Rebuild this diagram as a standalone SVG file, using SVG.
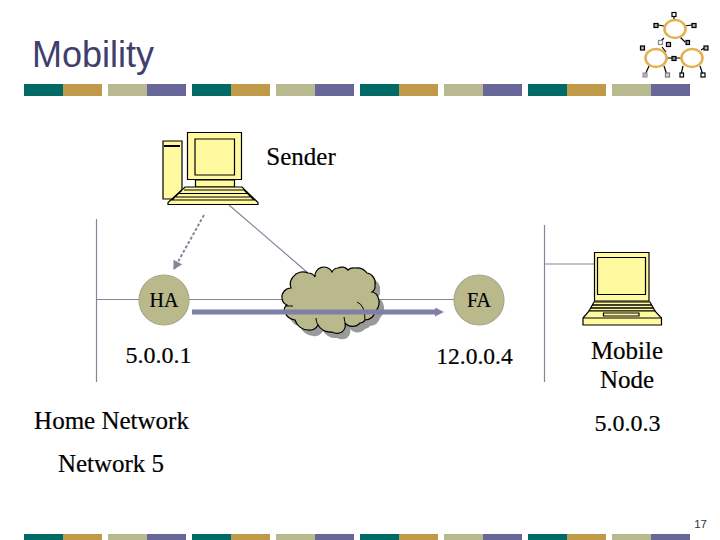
<svg xmlns="http://www.w3.org/2000/svg" xmlns:xlink="http://www.w3.org/1999/xlink" width="720" height="540" viewBox="0 0 720 540">
<style>
.t{font-family:"Liberation Serif","Times New Roman",serif;font-size:25px;fill:#000;stroke:#000;stroke-width:.2;text-anchor:middle}
.n{font-size:24px}
.pc{fill:#fff9a0;stroke:#000;stroke-width:1.200}
.net{stroke:#85859a;stroke-width:1.200;fill:none}
.cl{fill:#b9b98c;stroke:#a8a88a;stroke-width:1.200}
.ln{stroke:#000;stroke-width:1.200}
.sq{stroke:#000;stroke-width:1.200}
</style>
<defs>
<marker id="big" markerWidth="9" markerHeight="9" refX="0" refY="4.500" orient="auto" markerUnits="userSpaceOnUse"><path d="M0 0L9 4.500L0 9Z" fill="#7f7fa8"/></marker>
<marker id="dash" markerWidth="9" markerHeight="10" refX="8" refY="5" orient="auto" markerUnits="userSpaceOnUse"><path d="M0 0L9 5L0 10Z" fill="#85859a"/></marker>
<path id="cloud" d="M291 288A11 11 0 0 1 293 277A12 12 0 0 1 308 273A8 8 0 0 1 315 277A9 9 0 0 1 332 272A7 7 0 0 1 338 268A8 8 0 0 1 348 270A8 8 0 0 1 355 268A13 13 0 0 1 367 273A10 10 0 0 1 375 285A7 7 0 0 1 372 292A8 8 0 0 1 378 297A13 13 0 0 1 375 312A11 11 0 0 1 365 320A6 6 0 0 1 360 323A10 10 0 0 1 345 323A9 9 0 0 1 342 332A11 11 0 0 1 332 332A15 15 0 0 1 318 325A9 9 0 0 1 308 330A14 14 0 0 1 295 320A12 12 0 0 1 285 312A5 5 0 0 1 287 305A8 8 0 0 1 282 298A9 9 0 0 1 291 288Z"/>
<g id="bar"><rect x="0" width="39" height="12" fill="#006a66"/><rect x="39" width="39" height="12" fill="#c09a48"/><rect x="84" width="39" height="12" fill="#b9b98f"/><rect x="123" width="39" height="12" fill="#666699"/></g>
</defs>
<rect width="720" height="540" fill="#fff"/>
<g id="decor">
<use xlink:href="#bar" href="#bar" x="24" y="84"/><use xlink:href="#bar" href="#bar" x="192" y="84"/><use xlink:href="#bar" href="#bar" x="360" y="84"/><use xlink:href="#bar" href="#bar" x="528" y="84"/>
<use xlink:href="#bar" href="#bar" x="24" y="534"/><use xlink:href="#bar" href="#bar" x="192" y="534"/><use xlink:href="#bar" href="#bar" x="360" y="534"/><use xlink:href="#bar" href="#bar" x="528" y="534"/>
</g>
<g id="logo">
<path class="ln" d="M674 20V16M664 26L658 25M684 26L692 25M664 38L660 42M680 37L685 42M666 52L662 47M649 66L645 75M664 66L667 75M666 58H682M683 66L681 75M700 66L703 75M701 50L706 47"/>
<g fill="#fff" stroke="#e3b14e" stroke-width="2.600"><ellipse cx="675" cy="29" rx="10.500" ry="9"/><ellipse cx="656" cy="58" rx="10.500" ry="9"/><ellipse cx="692" cy="58" rx="10.500" ry="9"/></g>
<g class="sq">
<rect x="672" y="12.500" width="4" height="4" fill="#fff"/><rect x="654" y="23.500" width="4" height="4" fill="#aaa"/><rect x="692" y="23.500" width="4" height="4" fill="#aaa"/>
<rect x="658.500" y="40.500" width="4" height="4" fill="#fff" stroke="#888"/><rect x="666.500" y="42.500" width="4" height="4" fill="#d8a8c8"/><rect x="686" y="40.500" width="3.500" height="4" fill="#99a"/>
<rect x="640.500" y="46" width="4" height="4" fill="#aaa"/><rect x="704" y="46" width="4" height="4" fill="#d8a0c0"/><rect x="672" y="56.500" width="4" height="4" fill="#889"/>
<rect x="643" y="73" width="4" height="4" fill="#d0a0d0" stroke="#999"/><rect x="665.500" y="73" width="4" height="4" fill="#ddd" stroke="#777"/><rect x="680" y="73" width="3.500" height="4" fill="#fff"/><rect x="701" y="73" width="4" height="4" fill="#fff"/>
</g>
</g>
<text x="32" y="67" font-family="'Liberation Sans',Arial,sans-serif" font-size="36" fill="#3f3f6e">Mobility</text>
<text x="707" y="528" font-family="'Liberation Sans',Arial,sans-serif" font-size="11.500" fill="#333" text-anchor="end">17</text>
<g id="connectors">
<path class="net" d="M96.500 219V382M96.500 299.500H500M544.500 225V382M544.500 264H594M229 205L308 273"/>
<path d="M204 215L174 269" stroke="#85859a" stroke-width="2" stroke-dasharray="3 2" fill="none" marker-end="url(#dash)"/>
</g>
<g id="cloud-node">
<use xlink:href="#cloud" href="#cloud" x="5" y="6" fill="#9a9a9a"/>
<use xlink:href="#cloud" href="#cloud" fill="#b9b98c" stroke="#000" stroke-width="1.200"/>
<path d="M357 302Q365 305 365 320M285 306Q290 306 293 306M318 325Q316 322 316 318M345 323Q345 323 344 317" fill="none" stroke="#000" stroke-width="1"/>
</g>
<g id="sender">
<path class="pc" d="M163 141H182V199H163Z"/><path d="M164 146H180" stroke="#000" stroke-width="2"/>
<path class="pc" d="M187.500 132.500H241.500V179.500H187.500Z"/><path class="pc" d="M195 139H234.500V175H195Z"/><path class="pc" d="M195.500 180H234.500V187H195.500Z"/>
<path class="pc" d="M185 187H242L258 202.500V204.500H168V202.500Z"/><path d="M184 190H244L254 200H172L182 190M179 193.500H248M176 197H251" stroke="#000" stroke-width="1.100" fill="none"/>
<text class="t" x="301" y="165">Sender</text>
</g>
<g id="ha"><circle cx="164" cy="300" r="25" class="cl"/><text class="t" x="164" y="307" style="font-size:20px">HA</text></g>
<g id="fa"><circle cx="479" cy="300" r="25" class="cl"/><text class="t" x="479" y="307" style="font-size:20px">FA</text></g>
<path id="tunnel" d="M192 312H435" stroke="#7f7fa8" stroke-width="5" fill="none" marker-end="url(#big)"/>
<g id="mobile">
<path class="pc" d="M594.500 252.500H649V301H594.500Z"/><path class="pc" d="M597.500 257.500H645.500V294.500H597.500Z"/>
<path class="pc" d="M594 302H650L655 311H589Z"/><path d="M592 305H652M590.500 308H653.500" stroke="#000" stroke-width="1.500"/>
<path class="pc" d="M583 318L589 311H655L661.500 318V325H583Z"/><path d="M583 318H661.500" stroke="#000" stroke-width="1"/><path class="pc" d="M603.500 313H639V316H603.500Z"/>
</g>
<g id="labels">
<text class="t n" x="158.500" y="363">5.0.0.1</text>
<text class="t" x="474.500" y="364" style="font-size:23.500px">12.0.0.4</text>
<text class="t" x="627" y="359">Mobile</text>
<text class="t" x="627" y="388">Node</text>
<text class="t" x="111.500" y="429">Home Network</text>
<text class="t n" x="627.500" y="431">5.0.0.3</text>
<text class="t" x="111" y="472">Network 5</text>
</g>
</svg>
